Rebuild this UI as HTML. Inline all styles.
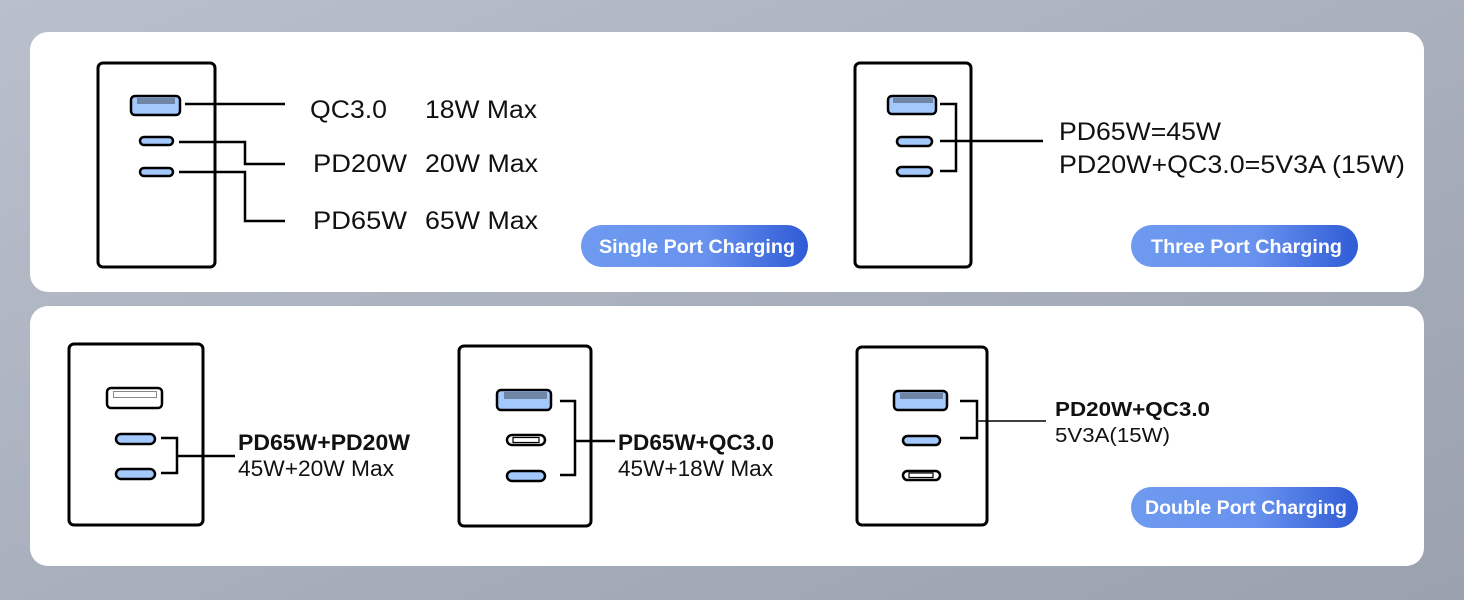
<!DOCTYPE html>
<html><head><meta charset="utf-8"><style>
html,body{margin:0;padding:0;width:1464px;height:600px;overflow:hidden}
svg{display:block}
text{font-family:"Liberation Sans",Arial,sans-serif}
</style></head><body>
<svg width="1464" height="600" viewBox="0 0 1464 600" xmlns="http://www.w3.org/2000/svg">
<defs>
<linearGradient id="bg" x1="0" y1="0" x2="1" y2="1">
<stop offset="0" stop-color="#b9bfcb"/><stop offset="1" stop-color="#9aa1af"/>
</linearGradient>
<linearGradient id="btn" x1="0" y1="0" x2="1" y2="0">
<stop offset="0" stop-color="#6e9af0"/><stop offset="0.55" stop-color="#6892ee"/><stop offset="1" stop-color="#2f5bd6"/>
</linearGradient>
</defs>
<rect width="1464" height="600" fill="url(#bg)"/>
<rect x="30" y="32" width="1394" height="260" rx="18" fill="#fff"/>
<rect x="30" y="306" width="1394" height="260" rx="18" fill="#fff"/>

<g fill="none" stroke="#000" stroke-width="3">
<rect x="98" y="63" width="117" height="204" rx="5"/>
<rect x="855" y="63" width="116" height="204" rx="5"/>
<rect x="69" y="344" width="134" height="181" rx="5"/>
<rect x="459" y="346" width="132" height="180" rx="5"/>
<rect x="857" y="347" width="130" height="178" rx="5"/>
</g>

<g stroke="#000" stroke-width="2.5" fill="#a3c8fb">
<rect x="131" y="96" width="49" height="19" rx="4"/>
<rect x="140" y="137" width="33" height="8" rx="4"/>
<rect x="140" y="168" width="33" height="8" rx="4"/>
<rect x="888" y="96" width="48" height="18" rx="4"/>
<rect x="897" y="137" width="35" height="9" rx="4.5"/>
<rect x="897" y="167" width="35" height="9" rx="4.5"/>
<rect x="107" y="388" width="55" height="20" rx="4" fill="#fff"/>
<rect x="116" y="434" width="39" height="10" rx="5"/>
<rect x="116" y="469" width="39" height="10" rx="5"/>
<rect x="497" y="390" width="54" height="20" rx="4"/>
<rect x="507" y="435" width="38" height="10" rx="5" fill="#fff"/>
<rect x="507" y="471" width="38" height="10" rx="5"/>
<rect x="894" y="391" width="53" height="19" rx="4"/>
<rect x="903" y="436" width="37" height="9" rx="4.5"/>
<rect x="903" y="471" width="37" height="9" rx="4.5" fill="#fff"/>
</g>
<g fill="#6f85a6">
<rect x="137" y="98" width="38" height="6"/>
<rect x="893" y="98" width="40" height="5"/>
<rect x="504" y="392" width="43" height="7"/>
<rect x="900" y="393" width="43" height="6"/>
</g>
<g fill="none" stroke="#888" stroke-width="1">
<rect x="113.5" y="391.5" width="43" height="6"/>
</g>
<g fill="none" stroke="#000" stroke-width="1.2">
<rect x="513" y="437.5" width="26" height="5"/>
<rect x="909" y="473" width="24" height="4.5"/>
</g>

<g fill="none" stroke="#000" stroke-width="2.5">
<path d="M185 104H285"/>
<path d="M179 142H245V164H285"/>
<path d="M179 172H245V221H285"/>
<path d="M940 104H956V171H940M940 141H1043"/>
<path d="M161 438H177V473H161M177 456H235"/>
<path d="M560 401H575V475H560M575 441H615"/>
<path d="M960 401H977V438H960"/>
</g>
<path d="M977 421H1046" stroke="#000" stroke-width="1.6"/>

<g font-size="25" fill="#111" lengthAdjust="spacingAndGlyphs">
<text x="310" y="118" textLength="77" lengthAdjust="spacingAndGlyphs">QC3.0</text>
<text x="425" y="118" textLength="112" lengthAdjust="spacingAndGlyphs">18W Max</text>
<text x="313" y="172" textLength="94" lengthAdjust="spacingAndGlyphs">PD20W</text>
<text x="425" y="172" textLength="113" lengthAdjust="spacingAndGlyphs">20W Max</text>
<text x="313" y="229" textLength="94" lengthAdjust="spacingAndGlyphs">PD65W</text>
<text x="425" y="229" textLength="113" lengthAdjust="spacingAndGlyphs">65W Max</text>
<text x="1059" y="140" textLength="162" lengthAdjust="spacingAndGlyphs">PD65W=45W</text>
<text x="1059" y="173" textLength="346" lengthAdjust="spacingAndGlyphs">PD20W+QC3.0=5V3A (15W)</text>
</g>
<g font-size="22" fill="#111">
<text x="238" y="450" font-weight="bold" textLength="172" lengthAdjust="spacingAndGlyphs">PD65W+PD20W</text>
<text x="238" y="476" textLength="156" lengthAdjust="spacingAndGlyphs">45W+20W Max</text>
<text x="618" y="450" font-weight="bold" textLength="156" lengthAdjust="spacingAndGlyphs">PD65W+QC3.0</text>
<text x="618" y="476" textLength="155" lengthAdjust="spacingAndGlyphs">45W+18W Max</text>
<text x="1055" y="416" font-weight="bold" font-size="20" textLength="155" lengthAdjust="spacingAndGlyphs">PD20W+QC3.0</text>
<text x="1055" y="442" font-size="20" textLength="115" lengthAdjust="spacingAndGlyphs">5V3A(15W)</text>
</g>

<rect x="581" y="225" width="227" height="42" rx="21" fill="url(#btn)"/>
<text x="599" y="253" font-size="19.5" font-weight="bold" fill="#fff" textLength="196" lengthAdjust="spacingAndGlyphs">Single Port Charging</text>
<rect x="1131" y="225" width="227" height="42" rx="21" fill="url(#btn)"/>
<text x="1151" y="253" font-size="19.5" font-weight="bold" fill="#fff" textLength="191" lengthAdjust="spacingAndGlyphs">Three Port Charging</text>
<rect x="1131" y="487" width="227" height="41" rx="20.5" fill="url(#btn)"/>
<text x="1145" y="514" font-size="19.5" font-weight="bold" fill="#fff" textLength="202" lengthAdjust="spacingAndGlyphs">Double Port Charging</text>
</svg>
</body></html>
